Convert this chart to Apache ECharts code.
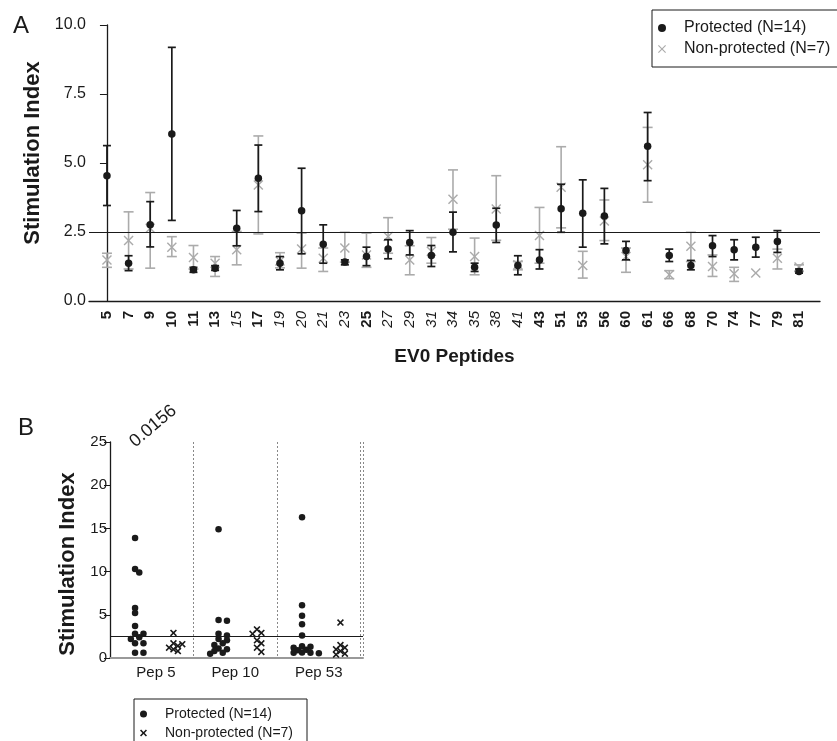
<!DOCTYPE html>
<html>
<head>
<meta charset="utf-8">
<script src="https://cdn.jsdelivr.net/npm/echarts@6/dist/echarts.min.js"></script>
<style>
html, body { margin: 0; padding: 0; background: #fff; }
#chart { width: 837px; height: 741px; }
</style>
</head>
<body>
<div id="chart"></div>
<script>
// Panel A: EV0 peptides, mean with error bars
const peptides = ['5','7','9','10','11','13','15','17','19','20','21','23','25','27','29','31','34','35','38','41','43','51','53','56','60','61','66','68','70','74','77','79','81'];
const boldPeptides = ['5','7','9','10','11','13','17','25','43','51','53','56','60','61','66','68','70','74','77','79','81'];
const protMean = [4.54,1.37,2.76,6.05,1.13,1.19,2.64,4.45,1.37,3.27,2.06,1.41,1.61,1.88,2.12,1.65,2.49,1.22,2.75,1.29,1.49,3.34,3.18,3.08,1.83,5.61,1.65,1.29,2.00,1.86,1.95,2.16,1.07];
const protLow  = [3.46,1.10,1.96,2.92,1.04,1.11,2.00,3.24,1.13,1.71,1.37,1.31,1.28,1.53,1.67,1.25,1.78,1.07,2.12,0.95,1.16,2.49,1.95,2.07,1.49,4.36,1.43,1.13,1.61,1.49,1.59,1.76,1.01];
const protHigh = [5.63,1.64,3.60,9.19,1.22,1.28,3.28,5.65,1.61,4.81,2.76,1.49,1.95,2.22,2.55,2.01,3.22,1.37,3.36,1.64,1.86,4.23,4.39,4.08,2.16,6.83,1.88,1.47,2.37,2.22,2.31,2.55,1.16];
const nonMean  = [1.49,2.19,2.64,1.95,1.58,1.37,1.86,4.20,1.45,1.88,1.55,1.92,1.67,2.34,1.49,1.80,3.69,1.61,3.33,1.31,2.37,4.12,1.29,2.90,1.61,4.94,0.95,1.98,1.25,0.99,1.01,1.55,1.23];
const nonLow   = [1.22,1.16,1.19,1.61,1.16,0.89,1.31,2.43,1.20,1.19,1.07,1.41,1.22,1.73,0.95,1.37,2.60,0.95,2.20,1.13,1.37,2.65,0.83,2.19,1.04,3.58,0.81,1.43,0.89,0.71,1.01,1.16,1.07];
const nonHigh  = [1.73,3.23,3.93,2.33,2.01,1.61,2.52,5.98,1.75,2.46,1.92,2.49,2.46,3.02,2.00,2.30,4.75,2.28,4.54,1.43,3.39,5.59,1.80,3.66,1.92,6.29,1.10,2.49,1.67,1.22,1.01,1.88,1.31];
const yTicksA = [0, 2.5, 5, 7.5, 10];

// Panel B: individual stimulation indices
const pepNames = ['Pep 5', 'Pep 10', 'Pep 53'];
const protValues = [
  [13.9, 10.3, 9.9, 5.8, 5.2, 3.7, 2.8, 2.8, 2.4, 2.2, 1.7, 1.7, 0.6, 0.6],
  [14.9, 4.4, 4.3, 2.8, 2.6, 2.2, 2.05, 1.7, 1.5, 1.1, 1.0, 0.8, 0.6, 0.5],
  [16.3, 6.1, 4.9, 3.9, 2.6, 1.35, 1.3, 1.2, 0.95, 0.9, 0.65, 0.6, 0.6, 0.55]
];
const nonValues = [
  [2.9, 1.7, 1.6, 1.4, 1.2, 1.0, 0.8],
  [3.3, 2.9, 2.8, 2.05, 1.7, 1.2, 0.7],
  [4.1, 1.5, 1.2, 1.0, 0.8, 0.5, 0.4]
];
const pValue = '0.0156';
const threshold = 2.5;

const PROT = 'Protected (N=14)';
const NON = 'Non-protected (N=7)';
const FONT = '"Liberation Sans", Arial, sans-serif';
const GREY = '#ababab';
const INK = '#1a1a1a';
const crossThin = 'path://M1,0L5,4L9,0L10,1L6,5L10,9L9,10L5,6L1,10L0,9L4,5L0,1Z';
const crossBold = 'path://M0,1.6L1.6,0L5,3.4L8.4,0L10,1.6L6.6,5L10,8.4L8.4,10L5,6.6L1.6,10L0,8.4L3.4,5Z';

const gridA = { left: 89, top: 25, right: 17, bottom: 440 };
const gridB = { left: 110, top: 442, width: 253, height: 216 };
const bMax = 3.03;

// error bar drawing for custom series
function errorBars(cap, color, width) {
  return function (params, api) {
    const x = api.value(0);
    const lo = api.value(1);
    const hi = api.value(2);
    if (lo === hi) return null;
    const a = api.coord([x, hi]);
    const b = api.coord([x, lo]);
    const style = { stroke: color, lineWidth: width };
    return {
      type: 'group',
      children: [
        { type: 'line', shape: { x1: a[0], y1: a[1], x2: b[0], y2: b[1] }, style },
        { type: 'line', shape: { x1: a[0] - cap, y1: a[1], x2: a[0] + cap, y2: a[1] }, style },
        { type: 'line', shape: { x1: b[0] - cap, y1: b[1], x2: b[0] + cap, y2: b[1] }, style }
      ]
    };
  };
}

// simple beeswarm so dots with close values spread sideways
function swarm(values, center, diam, step) {
  const xPer = gridB.width / bMax;
  const yPer = gridB.height / 25;
  const placed = [];
  values.slice().sort((a, b) => b - a).forEach((v) => {
    for (let k = 0; k < 30; k++) {
      const slot = k === 0 ? 0 : (k % 2 ? (k + 1) / 2 : -k / 2);
      const x = center + slot * step / xPer;
      const ok = placed.every((p) => Math.hypot((p[0] - x) * xPer, (p[1] - v) * yPer) >= diam);
      if (ok) { placed.push([x, v]); break; }
    }
  });
  return placed;
}

const idx = peptides.map((p, i) => i);
const protErr = idx.map((i) => [i, protLow[i], protHigh[i]]);
const nonErr = idx.map((i) => [i, nonLow[i], nonHigh[i]]);
const protPts = idx.map((i) => [i, protMean[i]]);
const nonPts = idx.map((i) => [i, nonMean[i]]);

let bProt = [];
let bNon = [];
pepNames.forEach((n, i) => {
  bProt = bProt.concat(swarm(protValues[i], i + 0.3, 4.6, 4.2));
  bNon = bNon.concat(swarm(nonValues[i], i + 0.76, 4.6, 4.4));
});

const myChart = echarts.init(document.getElementById('chart'));

const option = {
  animation: false,
  textStyle: { fontFamily: FONT },
  title: [
    { text: 'A', left: 8, top: 9, textStyle: { fontSize: 24, fontWeight: 'normal', color: INK, fontFamily: FONT } },
    { text: 'B', left: 13, top: 411, textStyle: { fontSize: 24, fontWeight: 'normal', color: INK, fontFamily: FONT } }
  ],
  legend: [
    {
      orient: 'vertical',
      left: 652,
      top: 10,
      padding: [10, 14, 10, 6],
      itemGap: 5,
      itemWidth: 8,
      itemHeight: 8,
      borderColor: INK,
      borderWidth: 1,
      textStyle: { fontSize: 16, color: INK, padding: [0, 0, 0, 13], fontFamily: FONT },
      data: [
        { name: PROT, icon: 'circle', itemStyle: { color: INK } },
        { name: NON, icon: crossThin, itemStyle: { color: GREY } }
      ]
    },
    {
      orient: 'vertical',
      left: 134,
      top: 699,
      height: 80,
      padding: [8, 14, 12, 6],
      itemGap: 5,
      itemWidth: 7,
      itemHeight: 7,
      borderColor: INK,
      borderWidth: 1,
      textStyle: { fontSize: 14, color: INK, padding: [0, 0, 0, 13], fontFamily: FONT },
      data: [
        { name: PROT, icon: 'circle', itemStyle: { color: INK } },
        { name: NON, icon: crossBold, itemStyle: { color: INK } }
      ]
    }
  ],
  grid: [
    { left: gridA.left, top: gridA.top, right: gridA.right, bottom: gridA.bottom },
    { left: gridB.left, top: gridB.top, width: gridB.width, height: gridB.height }
  ],
  xAxis: [
    {
      gridIndex: 0,
      type: 'value',
      min: -0.83,
      max: 32.97,
      name: 'EV0 Peptides',
      nameLocation: 'middle',
      nameGap: 46,
      nameTextStyle: { fontSize: 19, fontWeight: 'bold', color: INK },
      axisLine: { lineStyle: { color: INK, width: 1.3 } },
      axisTick: { show: false },
      splitLine: { show: false },
      axisLabel: {
        customValues: idx,
        rotate: 90,
        margin: 10,
        color: INK,
        formatter: (v) => {
          const p = peptides[Math.round(v)];
          return boldPeptides.includes(p) ? '{b|' + p + '}' : '{i|' + p + '}';
        },
        rich: {
          b: { fontSize: 15, fontWeight: 'bold', color: INK, fontFamily: FONT },
          i: { fontSize: 15, fontStyle: 'italic', color: INK, fontFamily: FONT }
        }
      }
    },
    {
      gridIndex: 1,
      type: 'value',
      min: 0,
      max: bMax,
      interval: 1,
      axisLine: { lineStyle: { color: '#999', width: 2 } },
      axisTick: { show: false },
      splitLine: { show: true, lineStyle: { color: '#888', type: [2, 2], width: 1 } },
      axisLabel: {
        customValues: [0.55, 1.5, 2.5],
        margin: 7,
        fontSize: 15,
        color: INK,
        formatter: (v) => pepNames[Math.floor(v)]
      }
    }
  ],
  yAxis: [
    {
      gridIndex: 0,
      type: 'value',
      min: yTicksA[0],
      max: yTicksA[yTicksA.length - 1],
      interval: 2.5,
      name: 'Stimulation Index',
      nameLocation: 'middle',
      nameGap: 45,
      nameTextStyle: { fontSize: 22, fontWeight: 'bold', color: INK, padding: [0, 0, 0, 20] },
      axisLine: { show: true, lineStyle: { color: INK, width: 1.3 } },
      axisTick: { show: true, length: 7, lineStyle: { color: INK } },
      splitLine: { show: false },
      axisLabel: { fontSize: 16, color: INK, margin: 3, formatter: (v) => v.toFixed(1) }
    },
    {
      gridIndex: 1,
      type: 'value',
      min: 0,
      max: 25,
      interval: 5,
      name: 'Stimulation Index',
      nameLocation: 'middle',
      nameGap: 31,
      nameTextStyle: { fontSize: 22, fontWeight: 'bold', color: INK, padding: [0, 28, 0, 0] },
      axisLine: { show: true, lineStyle: { color: INK, width: 1.3 } },
      axisTick: { show: true, length: 6, lineStyle: { color: INK } },
      splitLine: { show: false },
      axisLabel: { fontSize: 15, color: INK, margin: 3 }
    }
  ],
  series: [
    {
      name: NON + ' err',
      type: 'custom',
      xAxisIndex: 0,
      yAxisIndex: 0,
      z: 2,
      renderItem: errorBars(5, GREY, 1.6),
      encode: { x: 0, y: [1, 2] },
      data: nonErr
    },
    {
      name: NON,
      type: 'scatter',
      xAxisIndex: 0,
      yAxisIndex: 0,
      z: 3,
      symbol: crossThin,
      symbolSize: 10,
      itemStyle: { color: GREY, opacity: 1 },
      data: nonPts
    },
    {
      name: PROT + ' err',
      type: 'custom',
      xAxisIndex: 0,
      yAxisIndex: 0,
      z: 4,
      renderItem: errorBars(4, INK, 1.7),
      encode: { x: 0, y: [1, 2] },
      data: protErr
    },
    {
      name: PROT,
      type: 'scatter',
      xAxisIndex: 0,
      yAxisIndex: 0,
      z: 5,
      symbol: 'circle',
      symbolSize: 7.5,
      itemStyle: { color: INK, opacity: 1 },
      data: protPts,
      markLine: {
        silent: true,
        symbol: 'none',
        label: { show: false },
        lineStyle: { color: INK, width: 1, type: 'solid' },
        data: [{ yAxis: threshold }]
      }
    },
    {
      name: PROT,
      type: 'scatter',
      xAxisIndex: 1,
      yAxisIndex: 1,
      z: 5,
      symbol: 'circle',
      symbolSize: 6.5,
      itemStyle: { color: INK, opacity: 1 },
      data: bProt,
      markLine: {
        silent: true,
        symbol: 'none',
        label: { show: false },
        lineStyle: { color: INK, width: 1, type: 'solid' },
        data: [{ yAxis: threshold }]
      },
      markPoint: {
        symbol: 'circle',
        symbolSize: 1,
        itemStyle: { color: 'rgba(0,0,0,0)' },
        label: {
          show: true,
          position: 'inside',
          offset: [8, -14],
          formatter: pValue,
          rotate: 40,
          fontSize: 18,
          color: INK,
          fontFamily: FONT
        },
        data: [{ coord: [0.55, 25] }]
      }
    },
    {
      name: NON,
      type: 'scatter',
      xAxisIndex: 1,
      yAxisIndex: 1,
      z: 5,
      symbol: crossBold,
      symbolSize: 7,
      itemStyle: { color: INK, opacity: 1 },
      data: bNon
    }
  ]
};

myChart.setOption(option);
</script>
</body>
</html>
